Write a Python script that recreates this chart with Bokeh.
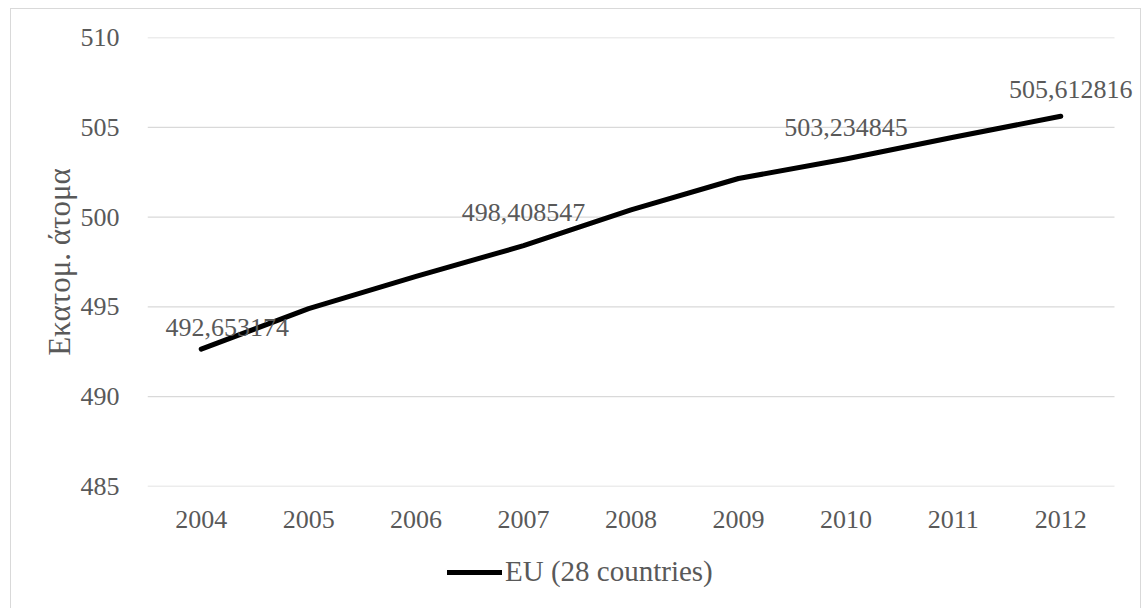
from bokeh.plotting import figure
from bokeh.layouts import column
from bokeh.models import FixedTicker, Legend, LegendItem, ColumnDataSource, Range1d
from bokeh.core.properties import value
from bokeh.embed import file_html
from bokeh.resources import INLINE

# ---- data ----
years = ["2004", "2005", "2006", "2007", "2008", "2009", "2010", "2011", "2012"]
population = [492.653174, 494.9, 496.7, 498.408547, 500.4, 502.15, 503.234845, 504.45, 505.612816]
series_name = "EU (28 countries)"
y_ticks = [485, 490, 495, 500, 505, 510]
y_title = "Εκατομ. άτομα"
label_years = ["2004", "2007", "2010", "2012"]
label_values = [492.653174, 498.408547, 503.234845, 505.612816]
label_dx = [26, 0, 0, 10]      # screen-pixel nudges of the data labels
label_dy = [-22, -33, -32, -27]

FONT = "'Liberation Serif', 'Times New Roman', serif"
GREY = "#595959"

xpos = list(range(len(years)))
idx = {y: i for i, y in enumerate(years)}

p = figure(
    x_range=Range1d(-0.5, len(years) - 0.5 + 0.242), y_range=(485, 510),
    width=1129, height=529,
    output_backend="svg", toolbar_location=None,
    min_border_left=136, min_border_right=0, min_border_top=28, min_border_bottom=52,
)
p.outline_line_color = None
p.background_fill_color = "white"
p.border_fill_color = "white"

# horizontal gridlines across the category band only
p.segment(x0=[-0.5] * len(y_ticks), x1=[len(years) - 0.5] * len(y_ticks),
          y0=y_ticks, y1=y_ticks, line_color="#d9d9d9", line_width=1.3)

src = ColumnDataSource(dict(x=xpos, y=population))
p.line("x", "y", source=src, line_color="black", line_width=5, line_cap="round", line_join="round")

lsrc = ColumnDataSource(dict(
    x=[idx[y] for y in label_years], y=label_values,
    t=[f"{v:.6f}".replace(".", ",") for v in label_values],
    dx=label_dx, dy=label_dy,
))
p.text("x", "y", text="t", source=lsrc, x_offset="dx", y_offset="dy",
       text_font=value(FONT), text_font_size="26px", text_color=GREY,
       text_align="center", text_baseline="middle")

# axes
p.xaxis.ticker = FixedTicker(ticks=xpos)
p.xaxis.major_label_overrides = {i: y for i, y in enumerate(years)}
p.yaxis.ticker = FixedTicker(ticks=y_ticks)
for ax in (p.xaxis[0], p.yaxis[0]):
    ax.axis_line_color = None
    ax.major_tick_line_color = None
    ax.minor_tick_line_color = None
    ax.major_label_text_font = FONT
    ax.major_label_text_font_size = "26px"
    ax.major_label_text_color = GREY
p.yaxis.major_label_standoff = 22
p.xaxis.major_label_standoff = 18
p.yaxis.axis_label = y_title
p.yaxis.axis_label_text_font = FONT
p.yaxis.axis_label_text_font_size = "31px"
p.yaxis.axis_label_text_font_style = "normal"
p.yaxis.axis_label_text_color = GREY
p.yaxis.axis_label_standoff = 1

p.xgrid.grid_line_color = None
p.ygrid.grid_line_color = None

# legend strip below the chart (stub renderer lies outside its visible range)
p2 = figure(width=1129, height=70, output_backend="svg", toolbar_location=None,
            x_range=(0, 1), y_range=(0, 1),
            min_border_left=0, min_border_right=0, min_border_top=0, min_border_bottom=0)
p2.axis.visible = False
p2.grid.grid_line_color = None
p2.outline_line_color = None
p2.border_fill_color = "white"
lr = p2.line(x=[5, 6], y=[5, 5], line_color="black", line_width=5, line_cap="round")

legend = Legend(items=[LegendItem(label=series_name, renderers=[lr])],
                location=(300, 20), orientation="horizontal")
legend.border_line_color = None
legend.background_fill_alpha = 0
legend.padding = 0
legend.margin = 0
legend.glyph_width = 55
legend.glyph_height = 30
legend.label_standoff = 3
legend.label_text_font = FONT
legend.label_text_font_size = "29px"
legend.label_text_color = GREY
p2.add_layout(legend, "center")

layout = column(p, p2, spacing=0, margin=(8, 0, 0, 10),
                styles={"border-top": "1px solid #d9d9d9", "border-left": "1px solid #d9d9d9",
                        "border-right": "1px solid #d9d9d9"})

open("out.html", "w").write(file_html(layout, INLINE))
